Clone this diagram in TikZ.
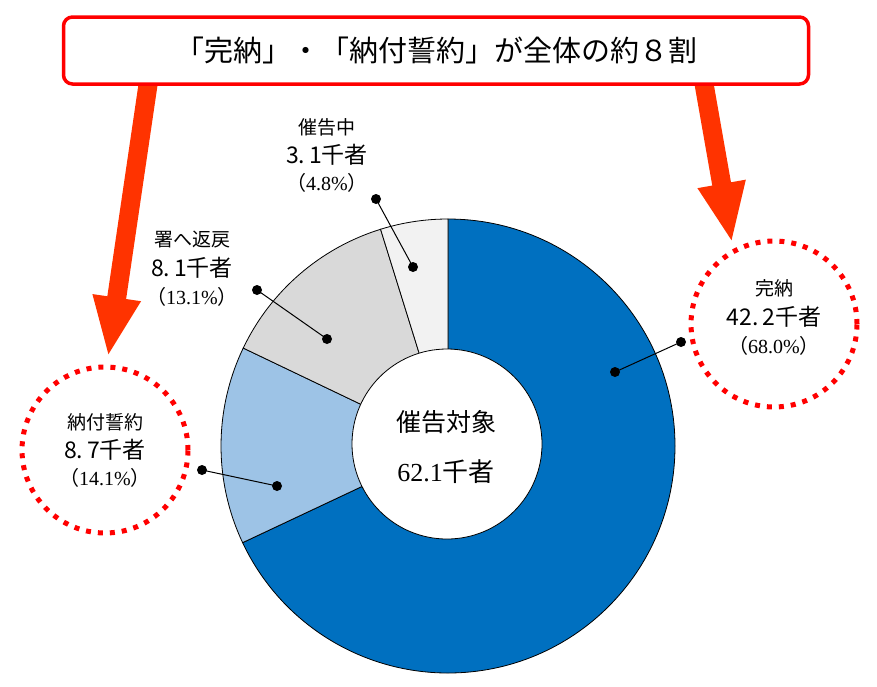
\documentclass[tikz,border=0pt]{standalone}
\usepackage{fontspec}
\setmainfont{Liberation Serif}
\newfontfamily\jp{Noto Sans CJK JP}
\usepackage{xcolor}
\usepackage{tikz}
\usetikzlibrary{arrows.meta,positioning}

\definecolor{kanblue}{RGB}{0,112,192}
\definecolor{nofublue}{RGB}{157,195,230}
\definecolor{modgray}{RGB}{217,217,217}
\definecolor{saigray}{RGB}{242,242,242}
\definecolor{arrowred}{RGB}{255,51,0}
\definecolor{ringred}{RGB}{255,0,0}

\tikzset{
  titlebox/.style={draw=ringred,line width=3.5pt,rounded corners=9pt,fill=white,
    minimum width=745pt,minimum height=67pt,inner sep=0pt,
    font=\jp\fontsize{29}{34}\selectfont},
  bigarrow/.style={draw=arrowred,line width=19pt,-{Triangle[length=60pt,width=44pt]}},
  dotring/.style={circle,draw=ringred,line width=5pt,dash pattern=on 5pt off 7pt,
    minimum size=166pt,inner sep=0pt},
  seg/.style={draw=black,line width=0.8pt},
  leader/.style={draw=black,line width=1pt},
  namelbl/.style={inner sep=0pt,font=\jp\fontsize{19}{22}\selectfont},
  numlbl/.style={inner sep=0pt,font=\jp\fontsize{23}{27}\selectfont},
  pctlbl/.style={inner sep=0pt,font=\fontsize{20}{23}\selectfont},
}

\begin{document}
\begin{tikzpicture}[x=1pt,y=-1pt]
    \useasboundingbox (0,0) rectangle (877,686);

    % donut
    \begin{scope}[shift={(448,446)}]
    \filldraw[seg,fill=kanblue] (0,0) -- (-90:227) arc[start angle=-90,end angle=154.8,radius=227] -- cycle;
    \filldraw[seg,fill=nofublue] (0,0) -- (154.8:227) arc[start angle=154.8,end angle=205.56,radius=227] -- cycle;
    \filldraw[seg,fill=modgray] (0,0) -- (205.56:227) arc[start angle=205.56,end angle=252.72,radius=227] -- cycle;
    \filldraw[seg,fill=saigray] (0,0) -- (252.72:227) arc[start angle=252.72,end angle=270,radius=227] -- cycle;
    \end{scope}
    \filldraw[seg,fill=white] (447,444) circle (95);
    \node[font=\jp\fontsize{25}{29}\selectfont] (total) at (446,422) {催告対象};
    \node[font=\fontsize{26}{30}\selectfont] (totalnum) at (446,472) {62.1{\jp 千者}};

    % arrows and title
    \coordinate (lstart) at (149,78);
    \coordinate (ltip) at (108,357);
    \coordinate (rstart) at (703,78);
    \coordinate (rtip) at (732,243);
    \draw[bigarrow] (lstart) -- (ltip);
    \draw[bigarrow] (rstart) -- (rtip);
    \node[titlebox] (title) at (436,50.5) {「完納」・「納付誓約」が全体の約８割};

    % rings
    \node[dotring] (kanno) at (774,324) {};
    \node[dotring] (nofu) at (105,450) {};

    % labels
    \node[namelbl] (kannoname) at (774,288) {完納};
    \node[numlbl] (kannonum) at (774,317) {42.\,2千者};
    \node[pctlbl] (kannopct) at (774,346) {{\jp （}68.0\%{\jp ）}};

    \node[namelbl] (nofuname) at (105,422) {納付誓約};
    \node[numlbl] (nofunum) at (105,450) {8.\,7千者};
    \node[pctlbl] (nofupct) at (105,478) {{\jp （}14.1\%{\jp ）}};

    \node[namelbl] (modname) at (192,240) {署へ返戻};
    \node[numlbl] (modnum) at (192,268) {8.\,1千者};
    \node[pctlbl] (modpct) at (192,297) {{\jp （}13.1\%{\jp ）}};

    \node[namelbl] (sainame) at (327,127) {催告中};
    \node[numlbl] (sainum) at (327,155) {3.\,1千者};
    \node[pctlbl] (saipct) at (327,183) {{\jp （}4.8\%{\jp ）}};

    % leaders
    \coordinate (kannoout) at (681,342);
    \coordinate (kannoin) at (615,372);
    \coordinate (nofuout) at (202,470);
    \coordinate (nofuin) at (277,486);
    \coordinate (modout) at (257,290);
    \coordinate (modin) at (327,339);
    \coordinate (saiout) at (376,199);
    \coordinate (saiin) at (413,267);
    \draw[leader] (kannoout) -- (kannoin);
    \draw[leader] (nofuout) -- (nofuin);
    \draw[leader] (modout) -- (modin);
    \draw[leader] (saiout) -- (saiin);
    \fill (kannoout) circle (5); \fill (kannoin) circle (5);
    \fill (nofuout) circle (5); \fill (nofuin) circle (5);
    \fill (modout) circle (5); \fill (modin) circle (5);
    \fill (saiout) circle (5); \fill (saiin) circle (5);
\end{tikzpicture}
\end{document}
